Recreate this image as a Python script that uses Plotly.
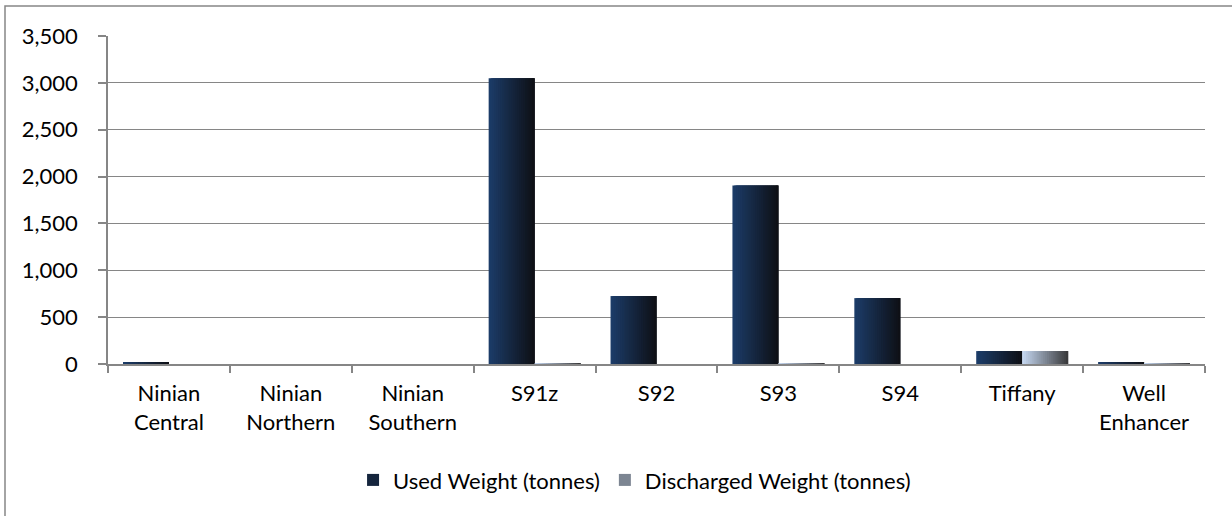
import plotly.graph_objects as go

# --- data -------------------------------------------------------------
categories = ["Ninian<br>Central", "Ninian<br>Northern", "Ninian<br>Southern",
              "S91z", "S92", "S93", "S94", "Tiffany", "Well<br>Enhancer"]
used_weight = [15, 0, 0, 3050, 725, 1905, 703, 138, 12]
discharged_weight = [0, 0, 0, 8, 0, 8, 0, 138, 10]

series_names = ["Used Weight (tonnes)", "Discharged Weight (tonnes)"]
y_ticks = [0, 500, 1000, 1500, 2000, 2500, 3000, 3500]

# --- style ------------------------------------------------------------
FONT = "Lato"
FSIZE = 22
GRID = "#868686"
BAR_W = 0.377          # width of one series' bar, in category units
SLICES = 24            # vertical strips used to build the horizontal shading

# left / right colours of each series' shading
shades = [
    ((28, 60, 104), (14, 16, 22)),
    ((196, 214, 239), (58, 58, 60)),
]


def mix(c0, c1, t):
    return "rgb({},{},{})".format(*[round(a + (b - a) * t) for a, b in zip(c0, c1)])


fig = go.Figure()

for s, (name, values) in enumerate(zip(series_names, [used_weight, discharged_weight])):
    left, right = shades[s]
    start = -BAR_W + s * BAR_W
    step = BAR_W / SLICES
    for i in range(SLICES):
        t = i / (SLICES - 1)
        # each strip reaches into the next one so no seams show between them
        w = step * 3 if i < SLICES - 2 else (BAR_W - i * step)
        fig.add_trace(go.Bar(
            x=categories,
            y=values,
            name=name,
            legendgroup=name,
            showlegend=(i == SLICES // 2),
            offset=start + i * step,
            width=w,
            marker=dict(color=mix(left, right, t), line=dict(width=0)),
            hovertemplate="%{x}: %{y:,}<extra>" + name + "</extra>",
        ))

fig.update_layout(
    width=1232, height=516,
    margin=dict(l=108, r=27, t=36, b=152),
    barmode="overlay",
    paper_bgcolor="white",
    plot_bgcolor="white",
    font=dict(family=FONT, size=FSIZE, color="#000000"),
    showlegend=True,
    legend=dict(
        orientation="h",
        x=0.48, xanchor="center",
        y=-0.354, yanchor="middle",
        font=dict(family=FONT, size=FSIZE, color="#000000"),
        itemwidth=30,
        traceorder="normal",
        bgcolor="rgba(0,0,0,0)",
    ),
    xaxis=dict(
        type="category",
        showgrid=False,
        showline=True, linecolor=GRID, linewidth=1.5,
        ticks="outside", ticklen=7, tickcolor=GRID, tickwidth=1.5,
        tickson="boundaries",
        ticklabelstandoff=9,
        tickfont=dict(family=FONT, size=FSIZE, color="#000000"),
        range=[-0.5, len(categories) - 0.5],
    ),
    yaxis=dict(
        range=[0, 3500],
        tickvals=y_ticks,
        tickformat=",",
        showgrid=True, gridcolor=GRID, gridwidth=1,
        showline=True, linecolor=GRID, linewidth=1.5,
        ticks="outside", ticklen=8, tickcolor=GRID, tickwidth=1.5,
        ticklabelstandoff=16,
        zeroline=False,
        tickfont=dict(family=FONT, size=FSIZE, color="#000000"),
    ),
    shapes=[
        # chart-area frame
        dict(type="rect", xref="paper", yref="paper",
             x0=(5 - 108) / 1097, x1=(1240 - 108) / 1097,
             y0=(364 - 524) / 328, y1=1 + (36 - 6) / 328,
             line=dict(color="#868686", width=1.5), layer="below"),
    ],
)

fig.write_html("out.html")
